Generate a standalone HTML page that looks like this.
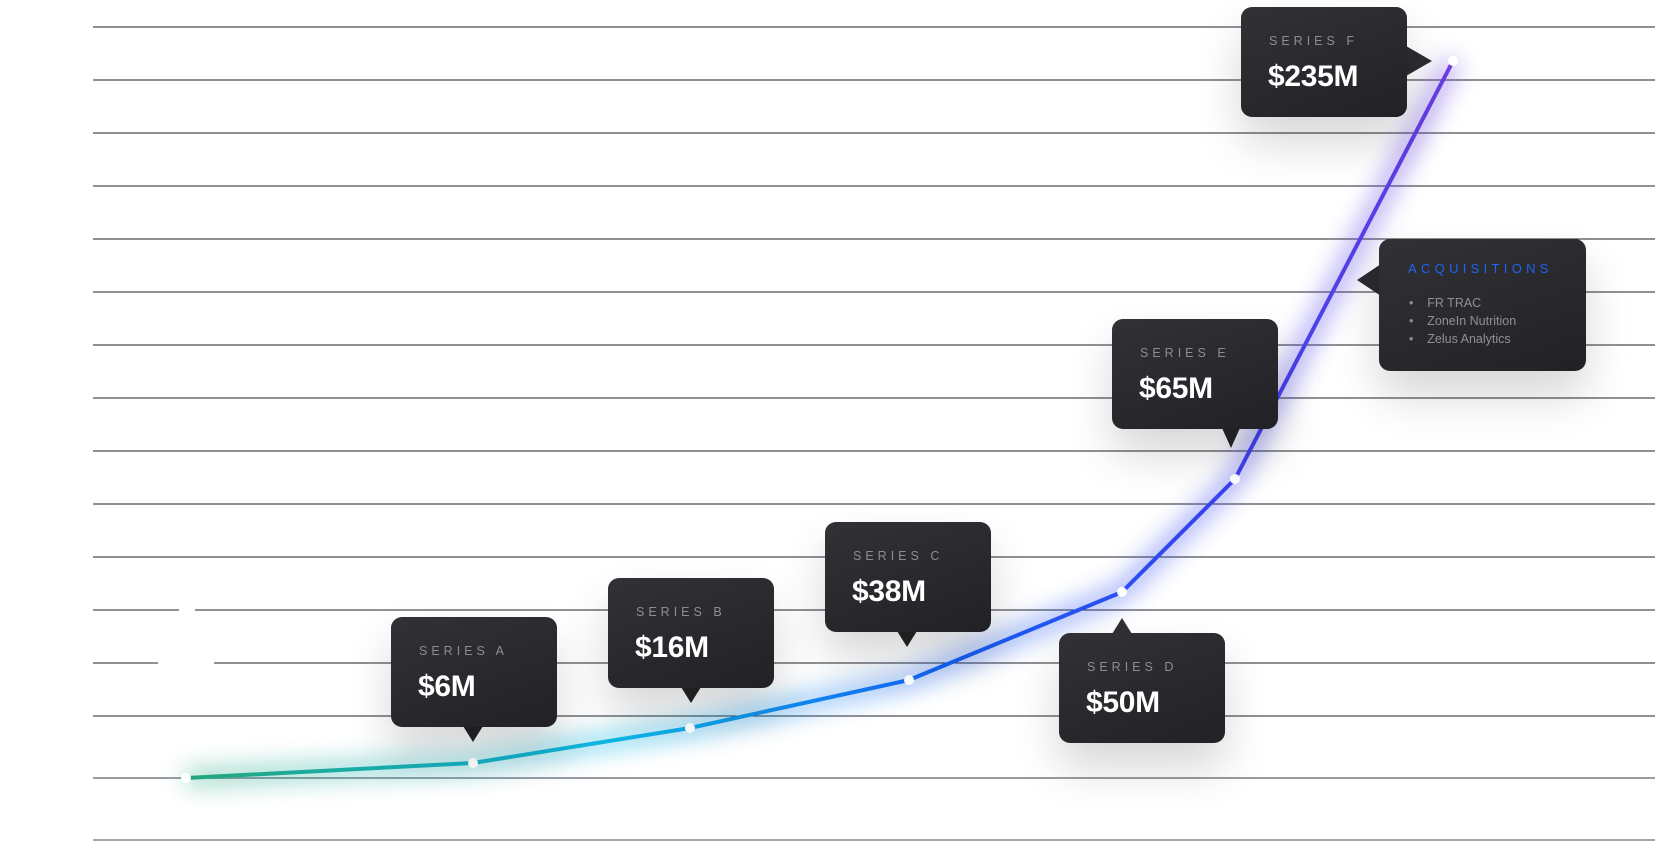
<!DOCTYPE html>
<html><head><meta charset="utf-8"><style>
html,body{margin:0;padding:0;background:#fff;width:1655px;height:856px;overflow:hidden}
.b{position:absolute;width:166px;height:110px;border-radius:11px;background:linear-gradient(160deg,#313136,#222226);box-shadow:0 25px 45px rgba(0,0,0,0.16);font-family:"Liberation Sans",sans-serif}
.b .l{position:absolute;left:28px;top:27px;font-size:12.5px;letter-spacing:4px;color:#8c8c93}
.b .v{position:absolute;left:27px;top:53px;font-size:30px;font-weight:bold;color:#fff;letter-spacing:-0.3px}
.p{position:absolute;width:0;height:0}
</style></head><body>
<svg width="1655" height="856" style="position:absolute;left:0;top:0">
<defs>
<linearGradient id="g" x1="186" y1="0" x2="1453" y2="0" gradientUnits="userSpaceOnUse">
<stop offset="0" stop-color="#22a67c"/><stop offset="0.35" stop-color="#0db6e8"/><stop offset="0.6" stop-color="#1560f4"/><stop offset="0.82" stop-color="#3a42ee"/><stop offset="1" stop-color="#6a3de2"/></linearGradient>
<filter id="bl" x="-20%" y="-20%" width="140%" height="140%"><feGaussianBlur stdDeviation="12"/></filter>
</defs>
<g stroke="#222226" stroke-width="1.1">
<line x1="93" x2="1655" y1="27" y2="27"/><line x1="93" x2="1655" y1="80" y2="80"/><line x1="93" x2="1655" y1="133" y2="133"/><line x1="93" x2="1655" y1="186" y2="186"/><line x1="93" x2="1655" y1="239" y2="239"/><line x1="93" x2="1655" y1="292" y2="292"/><line x1="93" x2="1655" y1="345" y2="345"/><line x1="93" x2="1655" y1="398" y2="398"/><line x1="93" x2="1655" y1="451" y2="451"/><line x1="93" x2="1655" y1="504" y2="504"/><line x1="93" x2="1655" y1="557" y2="557"/><line x1="93" x2="179" y1="610" y2="610"/><line x1="195" x2="1655" y1="610" y2="610"/><line x1="93" x2="158" y1="663" y2="663"/><line x1="214" x2="1655" y1="663" y2="663"/><line x1="93" x2="1655" y1="716" y2="716"/>
</g>
<line x1="93" x2="1655" y1="778" y2="778" stroke="#9a9ca2" stroke-width="2"/>
<line x1="93" x2="1655" y1="840" y2="840" stroke="#a4a6ac" stroke-width="2"/>
<polyline points="186,778 473,763 690,728 909,680 1122,592 1235,479 1453,61" fill="none" stroke="url(#g)" stroke-width="16" opacity="0.5" filter="url(#bl)"/>
<polyline points="186,778 473,763 690,728 909,680 1122,592 1235,479 1453,61" fill="none" stroke="url(#g)" stroke-width="4" stroke-linejoin="round"/>
<g fill="#fff"><circle cx="186" cy="778" r="5"/><circle cx="473" cy="763" r="5"/><circle cx="690" cy="728" r="5"/><circle cx="909" cy="680" r="5"/><circle cx="1122" cy="592" r="5"/><circle cx="1235" cy="479" r="5"/><circle cx="1453" cy="61" r="5"/></g>
</svg>
<div class="p" style="left:463px;top:726px;border-left:10px solid transparent;border-right:10px solid transparent;border-top:16px solid #242428"></div>
<div class="p" style="left:681px;top:687px;border-left:10px solid transparent;border-right:10px solid transparent;border-top:16px solid #242428"></div>
<div class="p" style="left:897px;top:631px;border-left:10px solid transparent;border-right:10px solid transparent;border-top:16px solid #242428"></div>
<div class="p" style="left:1112px;top:618px;border-left:10px solid transparent;border-right:10px solid transparent;border-bottom:16px solid #2f2f34"></div>
<div class="p" style="left:1222px;top:428px;border-left:9px solid transparent;border-right:9px solid transparent;border-top:20px solid #26262b"></div>
<div class="p" style="left:1406px;top:46px;border-top:15px solid transparent;border-bottom:15px solid transparent;border-left:26px solid #2c2c31"></div>
<div class="p" style="left:1357px;top:264px;border-top:16px solid transparent;border-bottom:16px solid transparent;border-right:24px solid #2a2a2f"></div>

<div class="b" style="left:391px;top:617px"><div class="l">SERIES A</div><div class="v">$6M</div></div>
<div class="b" style="left:608px;top:578px"><div class="l">SERIES B</div><div class="v">$16M</div></div>
<div class="b" style="left:825px;top:522px"><div class="l">SERIES C</div><div class="v">$38M</div></div>
<div class="b" style="left:1059px;top:633px"><div class="l">SERIES D</div><div class="v">$50M</div></div>
<div class="b" style="left:1112px;top:319px"><div class="l">SERIES E</div><div class="v">$65M</div></div>
<div class="b" style="left:1241px;top:7px"><div class="l">SERIES F</div><div class="v">$235M</div></div>
<div class="b" style="left:1379px;top:239px;width:207px;height:132px">
<div style="position:absolute;left:29px;top:22px;font-size:13px;letter-spacing:4.3px;color:#1c64f2">ACQUISITIONS</div>
<div style="position:absolute;left:30px;top:55px;font-size:12.5px;line-height:18px;color:#8f8f95">
<div>•&nbsp;&nbsp;&nbsp;&nbsp;FR TRAC</div><div>•&nbsp;&nbsp;&nbsp;&nbsp;ZoneIn Nutrition</div><div>•&nbsp;&nbsp;&nbsp;&nbsp;Zelus Analytics</div></div>
</div>
</body></html>
